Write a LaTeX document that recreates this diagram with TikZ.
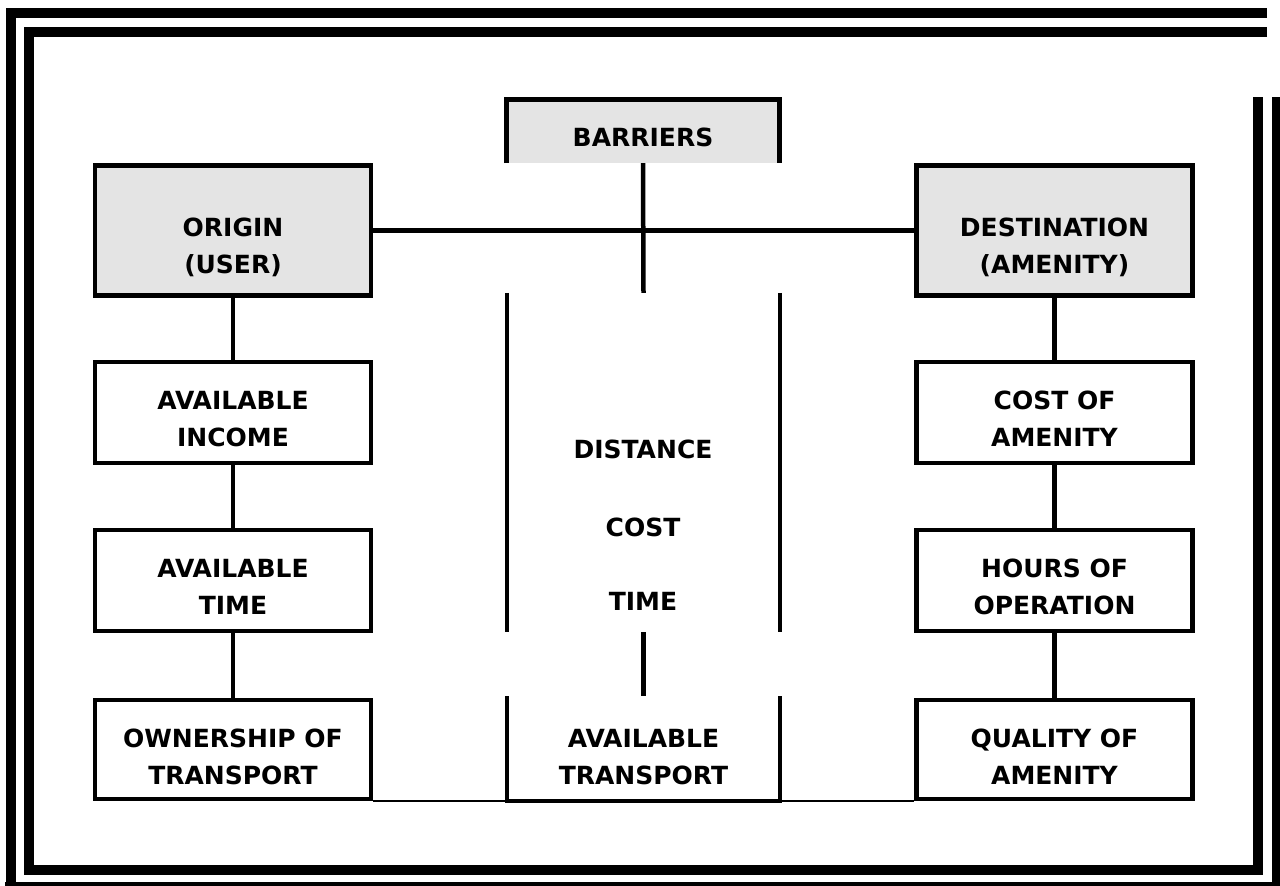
\documentclass[tikz,border=0pt]{standalone}
\usepackage{fontspec}
\setmainfont{DejaVu Sans}
\definecolor{boxgray}{HTML}{E4E4E4}
\tikzset{
  framepart/.style={line width=10pt, line cap=butt, line join=miter},
  box/.style={draw, line width=4.5pt, rectangle, minimum width=276pt, inner sep=0pt},
  gbox/.style={box, fill=boxgray},
  lbl/.style={font=\bfseries\fontsize{25}{37}\selectfont, align=center, inner sep=0pt},
  conn/.style={line width=4.5pt},
  midline/.style={line width=3.8pt},
  thinline/.style={line width=2pt},
}
\begin{document}
\begin{tikzpicture}[x=1pt,y=-1pt]
\useasboundingbox (0,0) rectangle (1280,886);
\clip (0,0) rectangle (1280,886);
% frame
\draw[framepart] (1267,13) -- (10.5,13) -- (10.5,895);
\draw[framepart] (1277,97) -- (1277,895);
\draw[framepart] (5,887) -- (1290,887);
\draw[framepart] (1267,32) -- (29,32) -- (29,870) -- (1258,870) -- (1258,97);
% left column
\node[gbox, minimum height=130pt] (origin) at (233,230.5) {};
\node[box, minimum height=101pt] (income) at (233,412.5) {};
\node[box, minimum height=101pt] (atime) at (233,580.5) {};
\node[box, minimum height=99pt] (own) at (233,749.5) {};
% right column
\node[gbox, minimum height=130pt] (dest) at (1054.5,230.5) {};
\node[box, minimum height=101pt] (costam) at (1054.5,412.5) {};
\node[box, minimum height=101pt] (hours) at (1054.5,580.5) {};
\node[box, minimum height=99pt] (quality) at (1054.5,749.5) {};
% middle
\node[fill=boxgray, minimum width=273pt, minimum height=63.5pt, inner sep=0pt] (barriers) at (643,131.25) {};
\draw[conn, line join=miter] (barriers.south west) -- (barriers.north west) -- (barriers.north east) -- (barriers.south east);
\node[minimum width=273pt, minimum height=339pt, inner sep=0pt] (midup) at (643.5,462.5) {};
\draw[midline] (midup.north west) -- (midup.south west);
\draw[midline] (midup.north east) -- (midup.south east);
\node[minimum width=273pt, minimum height=104pt, inner sep=0pt] (avtr) at (643.5,748.5) {};
\draw[midline, line join=miter] (avtr.north west) -- (avtr.south west) -- (avtr.south east) -- (avtr.north east);
% texts
\node[lbl] (origin-t) at (233,247) {ORIGIN\\(USER)};
\node[lbl] (dest-t) at (1054.5,247) {DESTINATION\\(AMENITY)};
\node[lbl] (income-t) at (233,419) {AVAILABLE\\INCOME};
\node[lbl] (atime-t) at (233,587) {AVAILABLE\\TIME};
\node[lbl] (own-t) at (233,757) {OWNERSHIP OF\\TRANSPORT};
\node[lbl] (costam-t) at (1054.5,419) {COST OF\\AMENITY};
\node[lbl] (hours-t) at (1054.5,587) {HOURS OF\\OPERATION};
\node[lbl] (quality-t) at (1054.5,757) {QUALITY OF\\AMENITY};
\node[lbl] (barriers-t) at (643,137) {BARRIERS};
\node[lbl] (dist-t) at (643,449) {DISTANCE};
\node[lbl] (cost-t) at (643,527) {COST};
\node[lbl] (time-t) at (643,601) {TIME};
\node[lbl] (avtr-t) at (643.5,757) {AVAILABLE\\TRANSPORT};
% connectors
\draw[conn] (origin.east) -- (dest.west);
\draw[conn] (barriers.south) -- (midup.north);
\draw[conn] (midup.south) -- (avtr.north);
\draw[conn] (origin.south) -- (income.north);
\draw[conn] (income.south) -- (atime.north);
\draw[conn] (atime.south) -- (own.north);
\draw[conn] (dest.south) -- (costam.north);
\draw[conn] (costam.south) -- (hours.north);
\draw[conn] (hours.south) -- (quality.north);
\draw[thinline] (own.south east) -- (own.south east -| avtr.west);
\draw[thinline] (avtr.south east) -- (avtr.south east -| quality.west);
\end{tikzpicture}
\end{document}
